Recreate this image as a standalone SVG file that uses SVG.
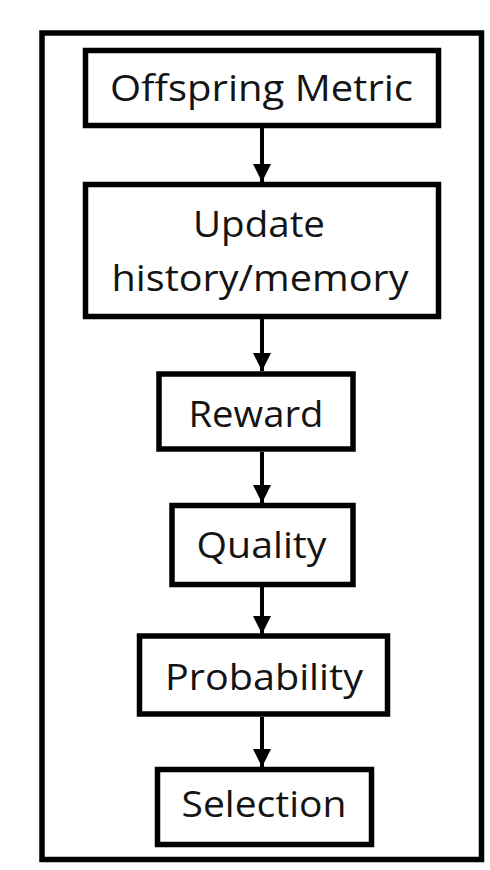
<svg xmlns="http://www.w3.org/2000/svg" width="490" height="870" viewBox="0 0 490 870">
  <defs>
    <style>
      .box { fill: #ffffff; stroke: #000000; stroke-width: 5.5; }
      .frame { fill: #ffffff; stroke: #000000; stroke-width: 5.5; }
      .lbl { font-family: "Open Sans", "Noto Sans", "Liberation Sans", sans-serif; font-size: 37px; fill: #141414; text-anchor: middle; }
      .conn { stroke: #000000; stroke-width: 4; fill: none; }
    </style>
    <marker id="arrow" markerUnits="userSpaceOnUse" markerWidth="20" markerHeight="22" refX="18" refY="9" orient="auto">
      <path d="M0,0 L18,9 L0,18 Z" fill="#000000"/>
    </marker>
  </defs>
  <rect width="490" height="870" fill="#ffffff"/>
  <rect class="frame" x="42" y="33" width="439.5" height="826.5"/>
  <g id="connectors">
    <line class="conn" x1="262" y1="128" x2="262" y2="182" marker-end="url(#arrow)"/>
    <line class="conn" x1="262" y1="319" x2="262" y2="371" marker-end="url(#arrow)"/>
    <line class="conn" x1="262" y1="452" x2="262" y2="503" marker-end="url(#arrow)"/>
    <line class="conn" x1="262" y1="587" x2="262" y2="634" marker-end="url(#arrow)"/>
    <line class="conn" x1="262" y1="717" x2="262" y2="767" marker-end="url(#arrow)"/>
  </g>
  <g id="node-offspring-metric">
    <rect class="box" x="85.5" y="50.5" width="353" height="75"/>
    <text class="lbl" x="261.5" y="101" textLength="303" lengthAdjust="spacingAndGlyphs">Offspring Metric</text>
  </g>
  <g id="node-update-history">
    <rect class="box" x="85.5" y="184.5" width="353" height="132"/>
    <text class="lbl" x="259" y="237" textLength="132" lengthAdjust="spacingAndGlyphs">Update</text>
    <text class="lbl" x="260" y="291" textLength="297" lengthAdjust="spacingAndGlyphs">history/memory</text>
  </g>
  <g id="node-reward">
    <rect class="box" x="159" y="374" width="194" height="75"/>
    <text class="lbl" x="256" y="427" textLength="135" lengthAdjust="spacingAndGlyphs">Reward</text>
  </g>
  <g id="node-quality">
    <rect class="box" x="172" y="505.5" width="181" height="79"/>
    <text class="lbl" x="261.5" y="558" textLength="130" lengthAdjust="spacingAndGlyphs">Quality</text>
  </g>
  <g id="node-probability">
    <rect class="box" x="139.5" y="636" width="248" height="78"/>
    <text class="lbl" x="264" y="689.5" textLength="198" lengthAdjust="spacingAndGlyphs">Probability</text>
  </g>
  <g id="node-selection">
    <rect class="box" x="157.5" y="769.5" width="214" height="75"/>
    <text class="lbl" x="264" y="817" textLength="165" lengthAdjust="spacingAndGlyphs">Selection</text>
  </g>
</svg>
